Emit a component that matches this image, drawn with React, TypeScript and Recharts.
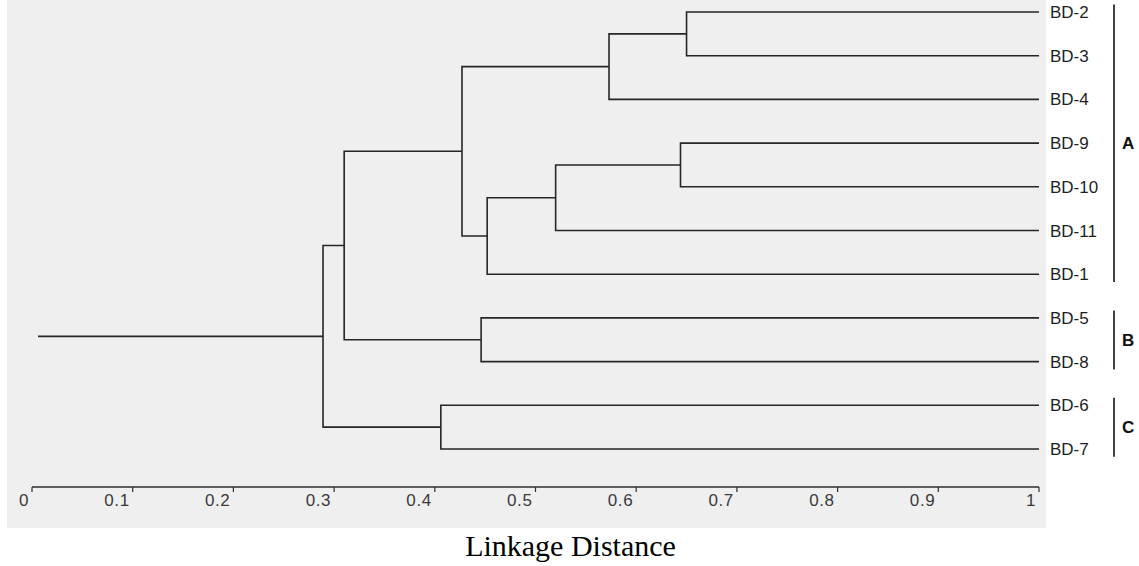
import React from 'react';
import { ComposedChart, Line, XAxis, YAxis, ReferenceLine } from 'recharts';

// leaves, top to bottom
const leaves = ['BD-2', 'BD-3', 'BD-4', 'BD-9', 'BD-10', 'BD-11', 'BD-1', 'BD-5', 'BD-8', 'BD-6', 'BD-7'];

// [left child, right child, linkage distance]; "m<i>" is the i-th merge
const merges: [string, string, number][] = [
  ['BD-2', 'BD-3', 0.65],
  ['m0', 'BD-4', 0.573],
  ['BD-9', 'BD-10', 0.644],
  ['m2', 'BD-11', 0.52],
  ['m3', 'BD-1', 0.452],
  ['m1', 'm4', 0.427],
  ['BD-5', 'BD-8', 0.446],
  ['m5', 'm6', 0.31],
  ['BD-6', 'BD-7', 0.406],
  ['m7', 'm8', 0.289],
];

const leafDistance = 1;
const rootStart = 0.006;

const xTicks = [0, 0.1, 0.2, 0.3, 0.4, 0.5, 0.6, 0.7, 0.8, 0.9, 1];

const groupNames = ['A', 'B', 'C'];
const groupFirst = ['BD-2', 'BD-5', 'BD-6'];
const groupLast = ['BD-1', 'BD-8', 'BD-7'];

// build the elbow links of the tree
const pos: Record<string, { x: number; y: number }> = {};
leaves.forEach((l, i) => (pos[l] = { x: leafDistance, y: i }));
const links = merges.map(([a, b, d], i) => {
  const A = pos[a];
  const B = pos[b];
  pos['m' + i] = { x: d, y: (A.y + B.y) / 2 };
  return [
    { x: A.x, y: A.y },
    { x: d, y: A.y },
    { x: d, y: B.y },
    { x: B.x, y: B.y },
  ];
});
const root = pos['m' + (merges.length - 1)];
links.push([
  { x: rootStart, y: root.y },
  { x: root.x, y: root.y },
]);

const leafIdx = leaves.map((_, i) => i);
const bracketX = 1.0745;

const AxisTick = ({ x, y, payload }: any) => (
  <text
    x={x - 3}
    y={y + 12}
    textAnchor="end"
    fill="#3a3a3a"
    fontSize={17}
    fontFamily="'Liberation Sans', Arial, sans-serif"
    letterSpacing={0.6}
  >
    {String(payload.value)}
  </text>
);

export default function App() {
  return (
    <div style={{ position: 'absolute', left: 0, top: 0, width: 1139, height: 566, background: '#fff' }}>
      <div style={{ position: 'absolute', left: 7, top: 0, width: 1039, height: 528, background: '#efefef' }} />
      <div style={{ position: 'absolute', left: 0, top: 0 }}>
        <ComposedChart width={1139} height={566} margin={{ top: 0, right: 0, bottom: 0, left: 32 }}>
          <XAxis
            type="number"
            dataKey="x"
            domain={[0, 1]}
            ticks={xTicks}
            interval={0}
            height={79}
            tickSize={5}
            tick={<AxisTick />}
            axisLine={{ stroke: '#2e2e2e', strokeWidth: 1.6 }}
            tickLine={{ stroke: '#2e2e2e', strokeWidth: 1.2 }}
            label={{
              value: 'Linkage Distance',
              position: 'insideBottom',
              offset: 10,
              dx: 35,
              fill: '#000',
              fontSize: 30,
              fontFamily: "'Liberation Serif', 'Times New Roman', serif",
            }}
          />
          <YAxis
            type="number"
            dataKey="y"
            orientation="right"
            domain={[-0.275, 10.87]}
            allowDataOverflow
            reversed
            ticks={leafIdx}
            interval={0}
            tickFormatter={(v: number) => leaves[v]}
            width={100}
            axisLine={false}
            tickLine={false}
            tickSize={0}
            tickMargin={11}
            tick={{ fill: '#1e1e1e', fontSize: 17, fontFamily: "'Liberation Sans', Arial, sans-serif" }}
          />
          {links.map((pts, i) => (
            <Line
              key={i}
              data={pts}
              dataKey="y"
              type="linear"
              stroke="#262626"
              strokeWidth={1.6}
              dot={false}
              activeDot={false}
              isAnimationActive={false}
            />
          ))}
          {groupNames.map((g, i) => (
            <ReferenceLine
              key={g}
              segment={[
                { x: bracketX, y: leaves.indexOf(groupFirst[i]) - 0.17 },
                { x: bracketX, y: leaves.indexOf(groupLast[i]) + 0.18 },
              ]}
              ifOverflow="visible"
              stroke="#111"
              strokeWidth={1.6}
              label={{
                value: g,
                position: 'right',
                offset: 8,
                fill: '#111',
                fontSize: 17,
                fontWeight: 700,
                fontFamily: "'Liberation Sans', Arial, sans-serif",
              }}
            />
          ))}
        </ComposedChart>
      </div>
    </div>
  );
}
